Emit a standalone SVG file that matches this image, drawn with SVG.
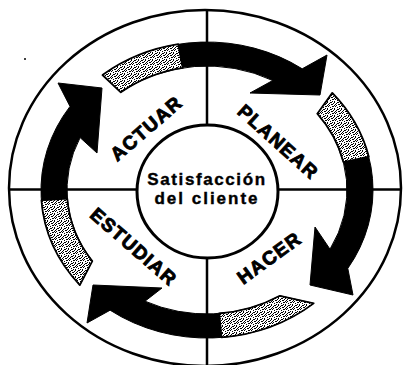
<svg xmlns="http://www.w3.org/2000/svg" width="403" height="365" viewBox="0 0 403 365">
  <style>
    .ln { fill: none; stroke: #000; stroke-width: 2.5; }
    .arrow { fill: #000; stroke: #000; stroke-width: 1; stroke-linejoin: round; }
    .tail { fill: url(#stip); stroke: #000; stroke-width: 1.8; stroke-linejoin: round; }
    .lbl { font-family: "Liberation Sans", Arial, sans-serif; font-weight: bold; font-size: 19px; letter-spacing: 1.3px; fill: #000; stroke: #000; stroke-width: 0.9; text-anchor: middle; }
    .ctr { font-family: "Liberation Sans", Arial, sans-serif; font-weight: bold; font-size: 17px; fill: #000; stroke: #000; stroke-width: 0.4; text-anchor: middle; }
  </style>
  <defs>
    <pattern id="stip" width="7" height="7" patternUnits="userSpaceOnUse">
      <rect width="7" height="7" fill="#fff"/>
      <rect x="0" y="0" width="1" height="1" fill="#000"/>
      <rect x="3" y="1" width="2" height="1" fill="#000"/>
      <rect x="5" y="3" width="1" height="2" fill="#000"/>
      <rect x="1" y="4" width="2" height="1" fill="#000"/>
      <rect x="2" y="6" width="2" height="1" fill="#000"/>
      <rect x="6" y="6" width="1" height="1" fill="#000"/>
      <rect x="4" y="5" width="1" height="1" fill="#000"/>
      <rect x="1" y="2" width="1" height="1" fill="#000"/>
      <rect x="6" y="1" width="1" height="1" fill="#000"/>
      <rect x="3" y="3" width="1" height="1" fill="#000"/>
      <rect x="0" y="5" width="1" height="1" fill="#000"/>
      <rect x="5" y="0" width="1" height="1" fill="#000"/>
    </pattern>
  </defs>

  <rect width="403" height="365" fill="#fff"/>

  <g id="frame">
    <ellipse class="ln" cx="205" cy="188" rx="196" ry="178" stroke-width="3"/>
    <line class="ln" x1="9" y1="189.5" x2="401" y2="189.5"/>
    <line class="ln" x1="207" y1="10" x2="207" y2="365"/>
    <circle cx="25" cy="59" r="1" fill="#000"/>
  </g>

  <g id="connectors">
    <!-- top arrow: ACTUAR -> PLANEAR -->
    <path class="arrow" d="M102.5,75 A166,148 0 0 1 302.2,68.8 L327,55 L320,95 L250,93 L272.7,80.5 A140,124 0 0 0 120.8,92.3 Z"/>
    <path class="tail" d="M102.5,75 A166,148 0 0 1 178.2,44.2 L182.7,67.9 A140,124 0 0 0 120.8,92.3 Z"/>
    <!-- right arrow: PLANEAR -> HACER -->
    <path class="arrow" d="M332.3,92.9 A166,148 0 0 1 347.8,268.4 L353,295 L310,285 L315,227 L330,249.2 A140,124 0 0 0 317.3,113.7 Z"/>
    <path class="tail" d="M332.3,92.9 A166,148 0 0 1 368.8,156.7 L343.4,162.1 A140,124 0 0 0 317.3,113.7 Z"/>
    <!-- bottom arrow: HACER -> ESTUDIAR -->
    <path class="arrow" d="M313.7,303.4 A166,148 0 0 1 110.1,310.2 L87,323 L93,285 L162,288 L145,301.2 A140,124 0 0 0 279.9,295.8 Z"/>
    <path class="tail" d="M313.7,303.4 A166,148 0 0 1 221.5,337.4 L219.2,313.5 A140,124 0 0 0 279.9,295.8 Z"/>
    <!-- left arrow: ESTUDIAR -> ACTUAR -->
    <path class="arrow" d="M79.8,285.1 A166,148 0 0 1 70,106.4 L58,83 L102,88 L97,153 L80.1,137.6 A140,124 0 0 0 92.3,261.1 Z"/>
    <path class="tail" d="M79.8,285.1 A166,148 0 0 1 41.4,200.3 L67.3,198.7 A140,124 0 0 0 92.3,261.1 Z"/>
  </g>

  <g id="center">
    <ellipse cx="207.5" cy="191.5" rx="70.5" ry="66.5" fill="#fff" stroke="#000" stroke-width="3"/>
    <text class="ctr" x="207" y="185" letter-spacing="1.6">Satisfacción</text>
    <text class="ctr" x="207" y="204" letter-spacing="2">del cliente</text>
  </g>

  <g id="actuar">
    <text class="lbl" transform="translate(146,128) rotate(-40.8)" y="7">ACTUAR</text>
  </g>
  <g id="planear">
    <text class="lbl" transform="translate(278.5,141.5) rotate(42)" y="7">PLANEAR</text>
  </g>
  <g id="hacer">
    <text class="lbl" transform="translate(269,257.5) rotate(-36)" y="7">HACER</text>
  </g>
  <g id="estudiar">
    <text class="lbl" transform="translate(134,246.5) rotate(41)" y="7">ESTUDIAR</text>
  </g>
</svg>
